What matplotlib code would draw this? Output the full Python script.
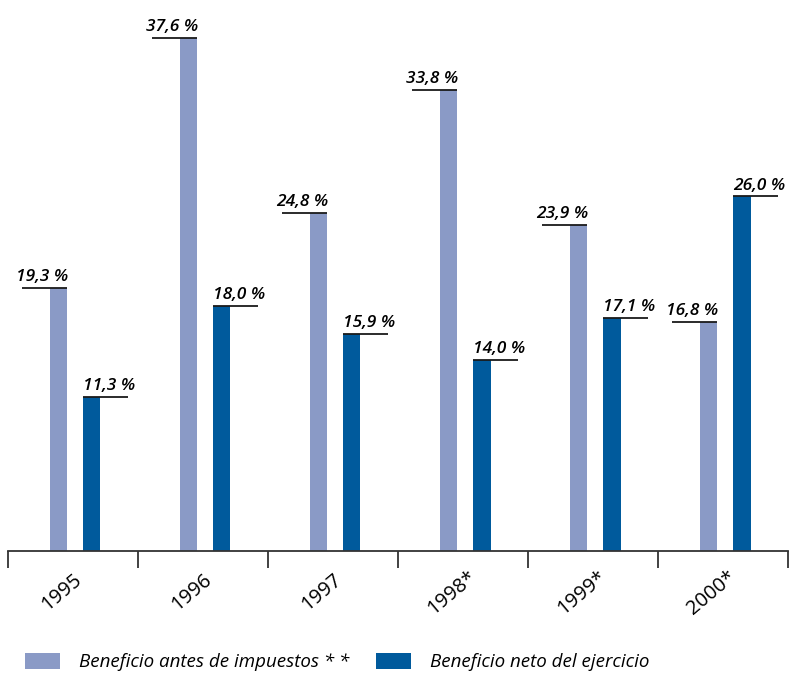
import numpy as np
import matplotlib
matplotlib.use("Agg")
import matplotlib.pyplot as plt

# Datos
years = ["1995", "1996", "1997", "1998*", "1999*", "2000*"]
antes_impuestos = [19.3, 37.6, 24.8, 33.8, 23.9, 16.8]
neto_ejercicio = [11.3, 18.0, 15.9, 14.0, 17.1, 26.0]
labels_antes = ["19,3 %", "37,6 %", "24,8 %", "33,8 %", "23,9 %", "16,8 %"]
labels_neto = ["11,3 %", "18,0 %", "15,9 %", "14,0 %", "17,1 %", "26,0 %"]

c_light = "#8a9ac6"
c_dark = "#005a9c"

plt.rcParams["font.family"] = ["Open Sans", "DejaVu Sans"]

fig = plt.figure(figsize=(7.96, 6.74), dpi=100)
ax = fig.add_axes([0.01, 0.1825, 0.98, 0.8175])

n = len(years)
centers = np.arange(n) + 0.5
w = 0.131
x_light = centers - 0.114
x_dark = centers + 0.146
line_len = 0.346

b1 = ax.bar(x_light, antes_impuestos, width=w, color=c_light, label="Beneficio antes de impuestos * *")
b2 = ax.bar(x_dark, neto_ejercicio, width=w, color=c_dark, label="Beneficio neto del ejercicio")

# Líneas y etiquetas de valores
for xl, v, t in zip(x_light, antes_impuestos, labels_antes):
    right = xl + w / 2
    ax.plot([right - line_len, right], [v, v], color="#1a1a1a", lw=1.3, solid_capstyle="butt")
    ax.annotate(t, (right, v), xytext=(1, 2), textcoords="offset points",
                ha="right", va="bottom", fontsize=12.5, style="italic", weight="semibold")
for xd, v, t in zip(x_dark, neto_ejercicio, labels_neto):
    left = xd - w / 2
    ax.plot([left, left + line_len], [v, v], color="#1a1a1a", lw=1.3, solid_capstyle="butt")
    ax.annotate(t, (left, v), xytext=(0, 2), textcoords="offset points",
                ha="left", va="bottom", fontsize=12.5, style="italic", weight="semibold")

ax.set_xlim(0, n)
ax.set_ylim(0, 40.4)
for s in ["top", "right", "left"]:
    ax.spines[s].set_visible(False)
ax.spines["bottom"].set_color("#333333")
ax.spines["bottom"].set_linewidth(1.3)
ax.set_yticks([])
ax.set_xticks(np.arange(n + 1))
ax.set_xticklabels([])
ax.tick_params(axis="x", direction="out", length=12, width=1.3, color="#333333")

# Años rotados
for c, y in zip(centers, years):
    ax.annotate(y, (c - 0.085, 0), xytext=(0, -30), textcoords="offset points",
                ha="center", va="center", rotation=40, fontsize=14.5, annotation_clip=False)

fig.legend(handles=[b1, b2], loc="lower left", bbox_to_anchor=(0.01, -0.021), ncol=2,
           frameon=False, prop={"size": 13.5, "style": "italic"},
           handlelength=1.9, handleheight=0.9, handletextpad=1.0, columnspacing=1.4)

plt.savefig("out.png", dpi=100)
